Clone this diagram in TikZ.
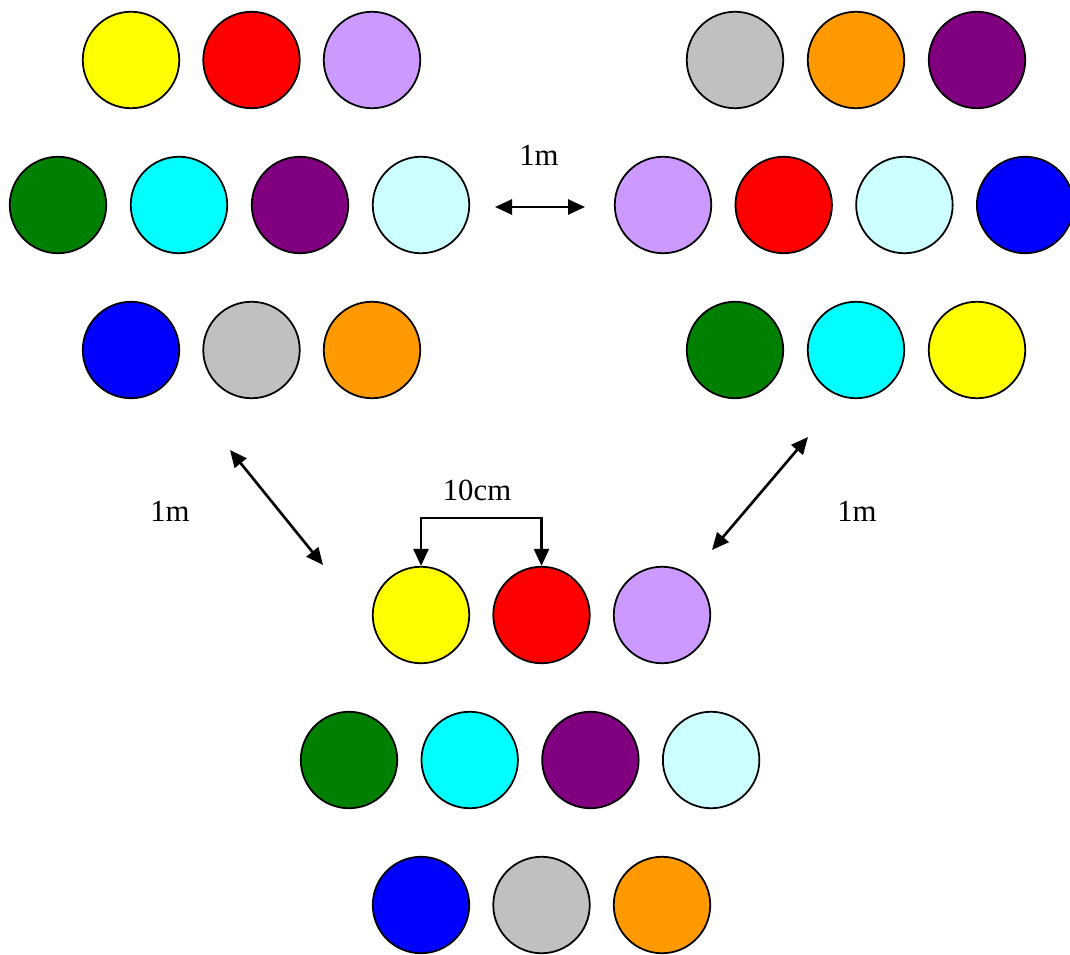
\documentclass[tikz,border=0pt]{standalone}
\usepackage{fontspec}
\setmainfont{Liberation Serif}
\usepackage{tikz}
\usetikzlibrary{arrows.meta}

\definecolor{lilac}{HTML}{CC99FF}
\definecolor{darkgreen}{HTML}{008000}
\definecolor{plum}{HTML}{800080}
\definecolor{paleblue}{HTML}{CCFFFF}
\definecolor{silver}{HTML}{C0C0C0}
\definecolor{amber}{HTML}{FF9900}
\definecolor{aqua}{HTML}{00FFFF}
\definecolor{lemon}{HTML}{FFFF00}
\definecolor{scarlet}{HTML}{FF0000}
\definecolor{royal}{HTML}{0000FF}

\begin{document}
\begin{tikzpicture}[x=0.02cm, y=-0.02cm,
    every node/.style={font=\fontsize{17.5}{21}\selectfont},
    ball/.style={draw, circle, line width=1pt, minimum size=1.93cm, inner sep=0pt},
    dim/.style={line width=1.5pt, {Triangle[length=0.34cm,width=0.3cm]}-{Triangle[length=0.34cm,width=0.3cm]}}]
    \useasboundingbox (0,0) rectangle (1070,955);

    % left group
    \foreach \c [count=\i] in {lemon,scarlet,lilac}
        \node[ball, fill=\c] (la\i) at ({131+120.5*(\i-1)},60) {};
    \foreach \c [count=\i] in {darkgreen,aqua,plum,paleblue}
        \node[ball, fill=\c] (lb\i) at ({58+121*(\i-1)},205) {};
    \foreach \c [count=\i] in {royal,silver,amber}
        \node[ball, fill=\c] (lc\i) at ({131+120.5*(\i-1)},350) {};

    % right group
    \foreach \c [count=\i] in {silver,amber,plum}
        \node[ball, fill=\c] (ra\i) at ({735+121*(\i-1)},60) {};
    \foreach \c [count=\i] in {lilac,scarlet,paleblue,royal}
        \node[ball, fill=\c] (rb\i) at ({663+120.7*(\i-1)},205) {};
    \foreach \c [count=\i] in {darkgreen,aqua,lemon}
        \node[ball, fill=\c] (rc\i) at ({735+121*(\i-1)},350) {};

    % bottom group
    \foreach \c [count=\i] in {lemon,scarlet,lilac}
        \node[ball, fill=\c] (ba\i) at ({421+120.5*(\i-1)},615) {};
    \foreach \c [count=\i] in {darkgreen,aqua,plum,paleblue}
        \node[ball, fill=\c] (bb\i) at ({349+120.7*(\i-1)},760) {};
    \foreach \c [count=\i] in {royal,silver,amber}
        \node[ball, fill=\c] (bc\i) at ({421+120.5*(\i-1)},905) {};

    % distances
    \coordinate (h1) at (495,207);
    \coordinate (h2) at (585,207);
    \coordinate (dl1) at (230,450);
    \coordinate (dl2) at (323,565);
    \coordinate (dr1) at (808,437);
    \coordinate (dr2) at (712,550);
    \draw[dim] (h1) -- (h2);
    \draw[dim] (dl1) -- (dl2);
    \draw[dim] (dr1) -- (dr2);
    \draw[dim] (ba1.north) -- ++(0,-48) -| (ba2.north);

    \node (lbh) at (539,155) {1m};
    \node (lbl) at (170,511) {1m};
    \node (lbr) at (857,511) {1m};
    \node (lbs) at (477,490) {10cm};
\end{tikzpicture}
\end{document}
